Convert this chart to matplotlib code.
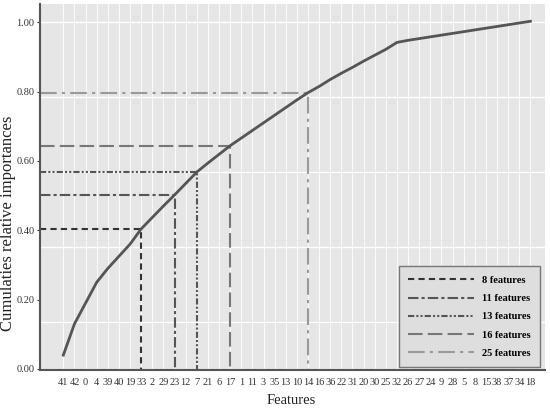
import matplotlib.pyplot as plt

# podatki
features = ['41', '42', '0', '4', '39', '40', '19', '33', '2', '29', '23', '12', '7', '21',
            '6', '17', '1', '11', '3', '35', '13', '10', '14', '16', '36', '22', '31', '20',
            '30', '25', '32', '26', '27', '24', '9', '28', '5', '8', '15', '38', '37', '34', '18']
cumul = [0.04, 0.13, 0.19, 0.25, 0.29, 0.325, 0.36, 0.404, 0.437, 0.470, 0.502, 0.535,
         0.568, 0.594, 0.619, 0.644, 0.666, 0.688, 0.710, 0.732, 0.754, 0.776, 0.797,
         0.815, 0.835, 0.853, 0.870, 0.888, 0.905, 0.922, 0.942, 0.948, 0.953, 0.958,
         0.963, 0.968, 0.973, 0.978, 0.983, 0.988, 0.993, 0.998, 1.003]

cut_labels = ['8 features', '11 features', '13 features', '16 features', '25 features']
cut_index = [7, 10, 12, 15, 22]
cut_colors = ['#333333', '#555555', '#555555', '#777777', '#999999']
cut_styles = [(0, (3, 2)), (0, (5, 1.5, 1.5, 1.5)), (0, (3, 1, 1, 1, 1, 1)),
              (0, (7, 2.5)), (0, (8, 2.5, 1.5, 2.5))]

grid_y = [0.135, 0.352, 0.569, 0.785, 1.0]

plt.rcParams['font.family'] = 'Liberation Serif'

fig = plt.figure(figsize=(5.5, 4.09), dpi=100, facecolor='w')
ax = fig.add_axes([0.0727, 0.0954, 0.918, 0.895])
ax.set_facecolor('#e6e6e6')

x = list(range(len(features)))
xmin = -2.1
for i in x:
    ax.axvline(i, color='w', lw=0.6, zorder=0)
for g in grid_y:
    ax.axhline(g, color='w', lw=1.0, zorder=0)

for lab, i, c, ls in zip(cut_labels, cut_index, cut_colors, cut_styles):
    yv = cumul[i]
    ax.plot([xmin, i, i], [yv, yv, -0.01], color=c, ls=ls, lw=1.5, label=lab, zorder=2)

ax.plot(x, cumul, color='#555555', lw=2.0, zorder=3)

ax.set_xlim(xmin, 43.3)
ax.set_ylim(-0.003, 1.053)
ax.set_xticks(x)
ax.set_xticklabels(features, fontsize=7.5)
ax.set_yticks([0.0, 0.2, 0.4, 0.6, 0.8, 1.0])
ax.set_yticklabels(['0.00', '0.20', '0.40', '0.60', '0.80', '1.00'], fontsize=7.5)
ax.tick_params(axis='x', length=0, pad=6, colors='#333333')
ax.tick_params(axis='y', length=2, pad=2, colors='#333333')

for s in ['top', 'right']:
    ax.spines[s].set_visible(False)
for s in ['left', 'bottom']:
    ax.spines[s].set_color('#555555')
    ax.spines[s].set_linewidth(1.5)

ax.set_xlabel('Features', fontsize=10.5, color='#222222')
ax.set_ylabel('Cumulaties relative importances', fontsize=12, color='#222222')
ax.xaxis.set_label_coords(0.497, -0.066)
ax.yaxis.set_label_coords(-0.047, 0.40)

leg = ax.legend(loc='lower right', bbox_to_anchor=(0.99, 0.008), borderaxespad=0,
                prop={'weight': 'bold', 'size': 7.5}, handlelength=6.3,
                fancybox=False, framealpha=1, labelspacing=0.85, borderpad=0.9)
leg.get_frame().set_facecolor('#dedede')
leg.get_frame().set_edgecolor('#777777')

plt.savefig('out.png', dpi=100)
